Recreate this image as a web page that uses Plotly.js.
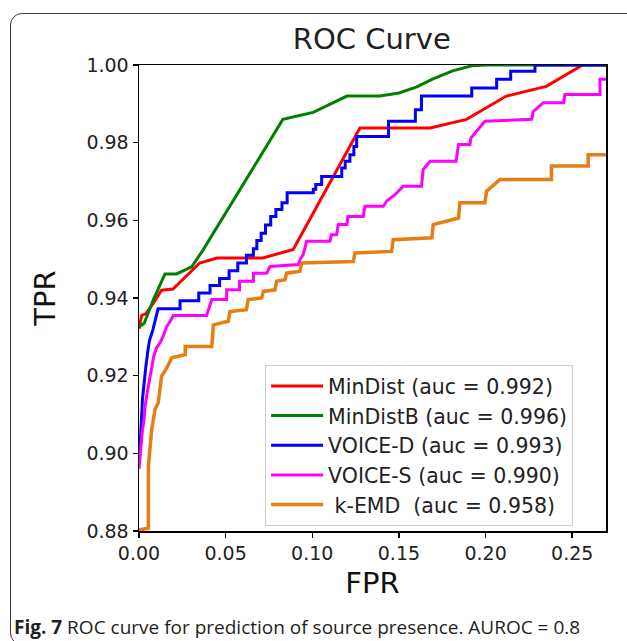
<!DOCTYPE html>
<html>
<head>
<meta charset="utf-8">
<script src="https://cdn.plot.ly/plotly-3.0.1.min.js"></script>
<style>
  html, body { margin: 0; padding: 0; background: #ffffff; overflow: hidden; }
  #wrap { position: relative; width: 627px; height: 641px; overflow: hidden; }
  #chart { position: absolute; left: 0; top: 0; width: 627px; height: 641px; }
  #frame { position: absolute; left: 10px; top: 13px; width: 640px; height: 632px;
           border: 1.5px solid #3a3a3a; border-radius: 12px; pointer-events: none; box-sizing: border-box; }
</style>
</head>
<body>
<div id="wrap">
  <div id="chart"></div>
  <div id="frame"></div>
</div>
<script>
// ---- Data ----
const seriesNames = [
  'MinDist (auc = 0.992)',
  'MinDistB (auc = 0.996)',
  'VOICE-D (auc = 0.993)',
  'VOICE-S (auc = 0.990)',
  '\u00a0k-EMD\u00a0\u00a0(auc = 0.958)'
];

const minDistFPR = [0, 0.0015, 0.004, 0.008, 0.013, 0.0196, 0.035, 0.045, 0.0715, 0.089, 0.1275, 0.168, 0.189, 0.212, 0.235, 0.256, 0.27];
const minDistTPR = [0.932, 0.9355, 0.936, 0.9385, 0.942, 0.9423, 0.949, 0.9503, 0.9503, 0.9525, 0.9838, 0.9838, 0.986, 0.992, 0.9945, 1.0, 1.0];

const minDistBFPR = [0, 0.003, 0.0083, 0.015, 0.0217, 0.0304, 0.037, 0.083, 0.1005, 0.12, 0.139, 0.15, 0.16, 0.17, 0.181, 0.192, 0.2, 0.27];
const minDistBTPR = [0.9325, 0.9335, 0.9396, 0.9462, 0.9462, 0.948, 0.9524, 0.986, 0.9878, 0.992, 0.992, 0.9928, 0.9943, 0.9965, 0.9985, 0.9998, 1.0, 1.0];

const voiceDFPR = [0, 0.001, 0.002, 0.003, 0.004, 0.005, 0.006, 0.008, 0.0095, 0.011,
  0.0237, 0.0237, 0.0345, 0.0345, 0.041, 0.041, 0.0465, 0.0465, 0.052, 0.052, 0.057, 0.057,
  0.062, 0.062, 0.066, 0.066, 0.068, 0.068, 0.0705, 0.0705, 0.073, 0.073, 0.076, 0.076,
  0.079, 0.079, 0.0825, 0.0825, 0.0855, 0.0855, 0.1006, 0.1006, 0.102, 0.102, 0.1054, 0.1054,
  0.117, 0.117, 0.119, 0.119, 0.1217, 0.1217, 0.124, 0.124, 0.1256, 0.1256,
  0.144, 0.144, 0.1595, 0.1595, 0.163, 0.163, 0.192, 0.192, 0.2064, 0.2064, 0.2145, 0.2145, 0.2285, 0.2285, 0.27];
const voiceDTPR = [0.899, 0.905, 0.914, 0.919, 0.9225, 0.926, 0.929, 0.9318, 0.9344, 0.9372,
  0.9372, 0.9393, 0.9393, 0.9413, 0.9413, 0.9432, 0.9432, 0.945, 0.945, 0.947, 0.947, 0.949,
  0.949, 0.951, 0.951, 0.9527, 0.9527, 0.9548, 0.9548, 0.9567, 0.9567, 0.9588, 0.9588, 0.961,
  0.961, 0.9628, 0.9628, 0.9645, 0.9645, 0.9671, 0.9671, 0.968, 0.968, 0.9692, 0.9692, 0.9713,
  0.9713, 0.9735, 0.9735, 0.9752, 0.9752, 0.9769, 0.9769, 0.979, 0.979, 0.9816,
  0.9816, 0.9855, 0.9855, 0.9885, 0.9885, 0.992, 0.992, 0.9941, 0.9941, 0.9963, 0.9963, 0.9984, 0.9984, 1.0, 1.0];

const voiceSFPR = [0, 0.001, 0.002, 0.003, 0.0035, 0.0045, 0.0055, 0.0065, 0.0075, 0.0085, 0.0102, 0.0122, 0.014, 0.016, 0.018, 0.0198,
  0.039, 0.0405, 0.042, 0.0506, 0.0506, 0.058, 0.058, 0.066, 0.066, 0.0737, 0.0756, 0.0919, 0.093, 0.0948, 0.0967,
  0.1102, 0.111, 0.114, 0.115, 0.12, 0.1205, 0.1294, 0.1304, 0.141, 0.143, 0.1477, 0.1525, 0.163, 0.164, 0.168,
  0.183, 0.1844, 0.191, 0.1915, 0.1996, 0.2266, 0.2275, 0.2333, 0.245, 0.2458, 0.266, 0.266, 0.27];
const voiceSTPR = [0.896, 0.902, 0.906, 0.909, 0.912, 0.915, 0.9175, 0.9205, 0.923, 0.925, 0.9272, 0.9285, 0.9302, 0.9327, 0.934, 0.9355,
  0.9355, 0.9378, 0.9396, 0.9396, 0.9421, 0.9421, 0.9443, 0.9443, 0.9464, 0.9464, 0.9481, 0.9486, 0.9499, 0.9512, 0.9546,
  0.9546, 0.9563, 0.9563, 0.9589, 0.9589, 0.961, 0.961, 0.9636, 0.9636, 0.965, 0.9666, 0.9688, 0.9688, 0.9731, 0.9752,
  0.9752, 0.9795, 0.9795, 0.9812, 0.9855, 0.986, 0.988, 0.9903, 0.9903, 0.9924, 0.9924, 0.9963, 0.9963];

const kEmdFPR = [0, 0.0054, 0.0054, 0.0073, 0.0092, 0.0111, 0.013, 0.014, 0.016, 0.0189, 0.0267, 0.0267,
  0.042, 0.0429, 0.0515, 0.0525, 0.062, 0.063, 0.0708, 0.0718, 0.0785, 0.0794, 0.0842, 0.0852, 0.0929, 0.0939,
  0.1237, 0.1246, 0.1458, 0.1467, 0.169, 0.1698, 0.1844, 0.1852, 0.1996, 0.2006, 0.2083, 0.238, 0.238, 0.2592, 0.2592, 0.27];
const kEmdTPR = [0.8803, 0.8807, 0.8966, 0.906, 0.9112, 0.913, 0.9198, 0.9207, 0.922, 0.9246, 0.9254, 0.9275,
  0.9275, 0.9331, 0.934, 0.9365, 0.937, 0.9396, 0.94, 0.9417, 0.9421, 0.9443, 0.9447, 0.9464, 0.9469, 0.949,
  0.9494, 0.9516, 0.952, 0.955, 0.9555, 0.9589, 0.9606, 0.9645, 0.9645, 0.9675, 0.9705, 0.9705, 0.974, 0.974, 0.9769, 0.9769];

const seriesColors = ['#ff0000', '#008000', '#0000ff', '#ff00ff', '#e67e14'];

const xTickVals = [0, 0.05, 0.10, 0.15, 0.20, 0.25];
const yTickVals = [0.88, 0.90, 0.92, 0.94, 0.96, 0.98, 1.00];

const xs = [minDistFPR, minDistBFPR, voiceDFPR, voiceSFPR, kEmdFPR];
const ys = [minDistTPR, minDistBTPR, voiceDTPR, voiceSTPR, kEmdTPR];

const traces = xs.map((x, i) => ({
  type: 'scatter', mode: 'lines', x: x, y: ys[i], name: seriesNames[i],
  line: { color: seriesColors[i], width: i === 4 ? 3.5 : 3 },
  hoverinfo: 'skip'
}));

const FONT = 'DejaVu Sans, sans-serif';
const layout = {
  width: 627, height: 641,
  margin: { l: 139, r: 21, t: 65, b: 110 },
  paper_bgcolor: 'rgba(0,0,0,0)', plot_bgcolor: '#ffffff',
  font: { family: FONT, color: '#222222' },
  title: { text: 'ROC Curve', font: { family: FONT, size: 29, color: '#222222' },
           x: 0.593, xanchor: 'center', y: 0.939, yanchor: 'middle' },
  showlegend: true,
  legend: {
    x: 0.27, y: 0.356, xanchor: 'left', yanchor: 'top',
    bgcolor: 'rgba(255,255,255,0.85)', bordercolor: '#cccccc', borderwidth: 1,
    font: { family: FONT, size: 20.5, color: '#222222' },
    itemwidth: 52, tracegroupgap: 0
  },
  xaxis: {
    range: [0, 0.2695], tickvals: xTickVals, tickformat: '.2f',
    showgrid: false, zeroline: false, showline: true, mirror: true,
    linecolor: '#000000', linewidth: 1.5, ticks: 'outside', ticklen: 5, tickwidth: 1.5, tickcolor: '#000000',
    tickfont: { family: FONT, size: 19, color: '#222222' },
    title: { text: 'FPR', font: { family: FONT, size: 29, color: '#111111' }, standoff: 9 },
    automargin: true
  },
  yaxis: {
    range: [0.88, 1.0], tickvals: yTickVals, tickformat: '.2f',
    showgrid: false, zeroline: false, showline: true, mirror: true,
    linecolor: '#000000', linewidth: 1.5, ticks: 'outside', ticklen: 5, tickwidth: 1.5, tickcolor: '#000000',
    tickfont: { family: FONT, size: 19, color: '#222222' },
    title: { text: 'TPR', font: { family: FONT, size: 29, color: '#111111' }, standoff: 22 },
    automargin: true
  },
  annotations: [{
    xref: 'paper', yref: 'paper', x: -0.272, y: -0.205, xanchor: 'left', yanchor: 'middle',
    showarrow: false, align: 'left',
    text: '<b>Fig. 7</b> ROC curve for prediction of source presence. AUROC = 0.8',
    font: { family: 'Open Sans, sans-serif', size: 19, color: '#231f20' }
  }]
};

Plotly.newPlot('chart', traces, layout, { staticPlot: true, displayModeBar: false });
</script>
</body>
</html>
